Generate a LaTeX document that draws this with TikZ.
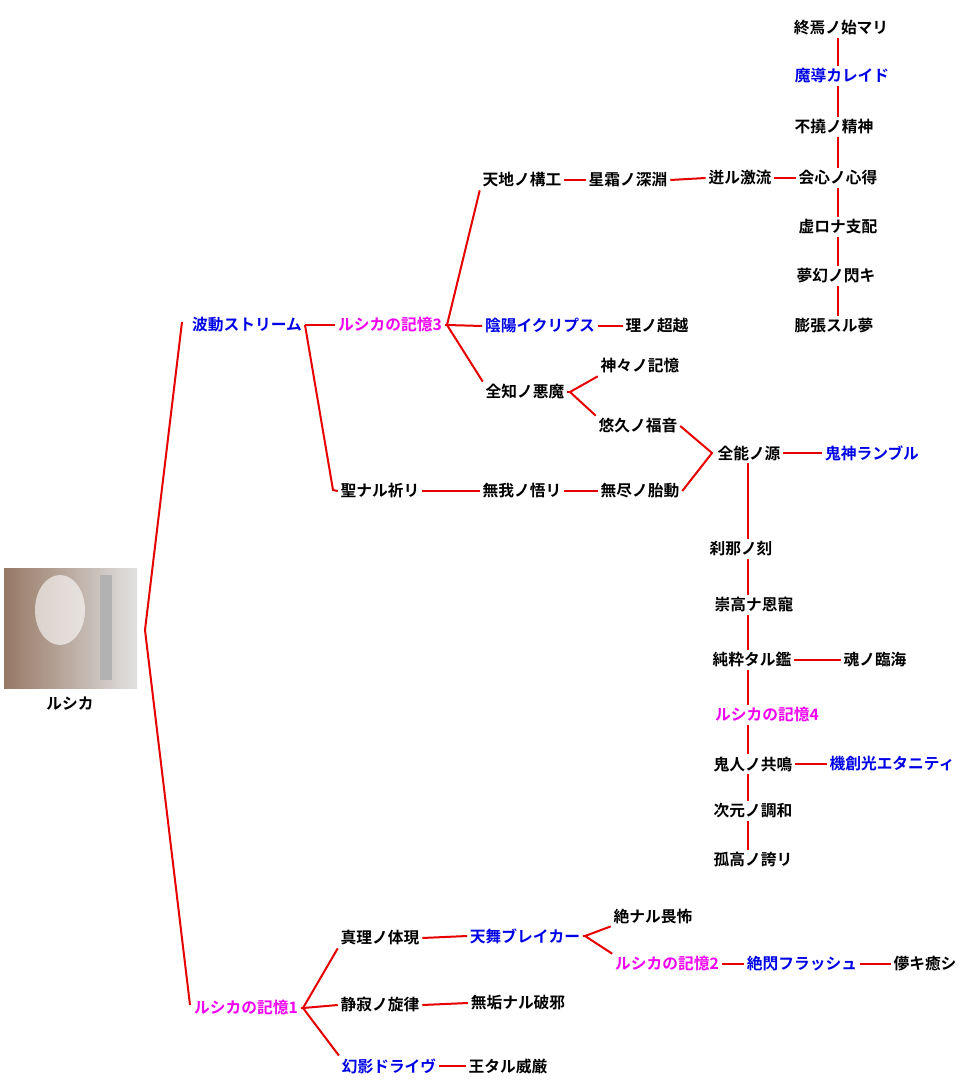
\documentclass[tikz,border=0pt]{standalone}
\usepackage{fontspec}
\setmainfont{Noto Sans CJK JP}[BoldFont={* Bold}]
\begin{document}
\begin{tikzpicture}[x=0.75pt,y=-0.75pt,
  t/.style={font=\bfseries\fontsize{11.8}{13}\selectfont,inner sep=2pt,text=black},
  b/.style={t,text={rgb,255:red,0;green,0;blue,230}},
  m/.style={t,text={rgb,255:red,240;green,0;blue,240}},
  ln/.style={draw={rgb,255:red,230;green,0;blue,0},line width=1.5pt}]
\useasboundingbox (0,0) rectangle (960,1080);
\fill[white] (0,0) rectangle (960,1080);
% image placeholder
\shade[left color={rgb,255:red,150;green,120;blue,100},right color={rgb,255:red,225;green,225;blue,225}] (4,568) rectangle (137,688);
\fill[white,opacity=0.6] (60,610) ellipse (25 and 35);
\fill[gray!60] (100,575) rectangle (112,680);
\node[t] (root) at (70,704) {ルシカ};
\coordinate (j0) at (145,630);
\coordinate (cxa) at (838,0);
\coordinate (cxb) at (748,0);
\node[b] (hado) at (247,325) {波動ストリーム};
\node[m] (k3) at (390,325) {ルシカの記憶3};
\node[t] (sei) at (380,491) {聖ナル祈リ};
\node[t] (tenchi) at (522,180) {天地ノ構工};
\node[t] (seiso) at (628,180) {星霜ノ深淵};
\node[t] (hoto) at (740,178) {迸ル激流};
\node[t] (kaishin) at (838,178) {会心ノ心得};
\node[t] (shuen) at (841,28) {終焉ノ始マリ};
\node[b] (madou) at (842,76) {魔導カレイド};
\node[t] (futou) at (834,127) {不撓ノ精神};
\node[t] (kyoro) at (838,227) {虚ロナ支配};
\node[t] (mugen) at (836,276) {夢幻ノ閃キ};
\node[t] (bocho) at (834,326) {膨張スル夢};
\node[b] (onmyo) at (540,326) {陰陽イクリプス};
\node[t] (kotowari) at (657,326) {理ノ超越};
\node[t] (zenchi) at (525,392) {全知ノ悪魔};
\node[t] (kami) at (640,366) {神々ノ記憶};
\node[t] (yukyu) at (638,426) {悠久ノ福音};
\node[t] (zenno) at (749,453) {全能ノ源};
\node[b] (kijin) at (872,453) {鬼神ランブル};
\node[t] (muga) at (522,491) {無我ノ悟リ};
\node[t] (mujin) at (640,491) {無尽ノ胎動};
\node[t] (setsuna) at (741,549) {刹那ノ刻};
\node[t] (suko) at (754,605) {崇高ナ恩寵};
\node[t] (junsui) at (752,660) {純粋タル鑑};
\node[t] (tamashii) at (875,660) {魂ノ臨海};
\node[m] (k4) at (767,715) {ルシカの記憶4};
\node[t] (kijin2) at (753,764) {鬼人ノ共鳴};
\node[b] (kiso) at (892,764) {機創光エタニティ};
\node[t] (jigen) at (753,811) {次元ノ調和};
\node[t] (koko) at (753,860) {孤高ノ誇リ};
\node[m] (k1) at (246,1008) {ルシカの記憶1};
\node[t] (shinri) at (380,938) {真理ノ体現};
\node[t] (seijaku) at (380,1005) {静寂ノ旋律};
\node[b] (genei) at (389,1066) {幻影ドライヴ};
\node[b] (tenbu) at (525,936) {天舞ブレイカー};
\node[t] (muku) at (518,1003) {無垢ナル破邪};
\node[t] (ou) at (508,1066) {王タル威厳};
\node[t] (zetsu) at (653,916) {絶ナル畏怖};
\node[m] (k2) at (667,964) {ルシカの記憶2};
\node[b] (zessen) at (802,964) {絶閃フラッシュ};
\node[t] (hakanaki) at (925,964) {儚キ癒シ};
% connectors
\draw[ln] (182,322) -- (j0) -- (190,1005);
\draw[ln] (hado.east) -- (k3.west);
\draw[ln] (305,325) -- (333,490) -- (sei.west);
\coordinate (j3) at (447,325);
\draw[ln] (tenchi.south west) -- (j3) -- (onmyo.west);
\draw[ln] (j3) -- (zenchi.north west);
\draw[ln] (k3.east) -- (j3);
\draw[ln] (tenchi.east) -- (seiso.west);
\draw[ln] (seiso.east) -- (hoto.west);
\draw[ln] (hoto.east) -- (kaishin.west);
\draw[ln] (shuen.south -| cxa) -- (madou.north -| cxa);
\draw[ln] (madou.south -| cxa) -- (futou.north -| cxa);
\draw[ln] (futou.south -| cxa) -- (kaishin.north -| cxa);
\draw[ln] (kaishin.south -| cxa) -- (kyoro.north -| cxa);
\draw[ln] (kyoro.south -| cxa) -- (mugen.north -| cxa);
\draw[ln] (mugen.south -| cxa) -- (bocho.north -| cxa);
\draw[ln] (onmyo.east) -- (kotowari.west);
\coordinate (jz) at (570,392);
\draw[ln] (kami.south west) -- (jz) -- (yukyu.north west);
\draw[ln] (zenchi.east) -- (jz);
\coordinate (jn) at (712,453);
\draw[ln] (yukyu.east) -- (jn) -- (mujin.east);
\draw[ln] (zenno.east) -- (kijin.west);
\draw[ln] (sei.east) -- (muga.west);
\draw[ln] (muga.east) -- (mujin.west);
\draw[ln] (zenno.south -| cxb) -- (setsuna.north -| cxb);
\draw[ln] (setsuna.south -| cxb) -- (suko.north -| cxb);
\draw[ln] (suko.south -| cxb) -- (junsui.north -| cxb);
\draw[ln] (junsui.east) -- (tamashii.west);
\draw[ln] (junsui.south -| cxb) -- (k4.north -| cxb);
\draw[ln] (k4.south -| cxb) -- (kijin2.north -| cxb);
\draw[ln] (kijin2.east) -- (kiso.west);
\draw[ln] (kijin2.south -| cxb) -- (jigen.north -| cxb);
\draw[ln] (jigen.south -| cxb) -- (koko.north -| cxb);
\coordinate (j1) at (303,1008);
\draw[ln] (shinri.south west) -- (j1) -- (genei.north west);
\draw[ln] (k1.east) -- (j1) -- (seijaku.west);
\draw[ln] (shinri.east) -- (tenbu.west);
\draw[ln] (seijaku.east) -- (muku.west);
\draw[ln] (genei.east) -- (ou.west);
\coordinate (jt) at (585,936);
\draw[ln] (zetsu.south west) -- (jt) -- (k2.north west);
\draw[ln] (tenbu.east) -- (jt);
\draw[ln] (k2.east) -- (zessen.west);
\draw[ln] (zessen.east) -- (hakanaki.west);
\end{tikzpicture}
\end{document}
